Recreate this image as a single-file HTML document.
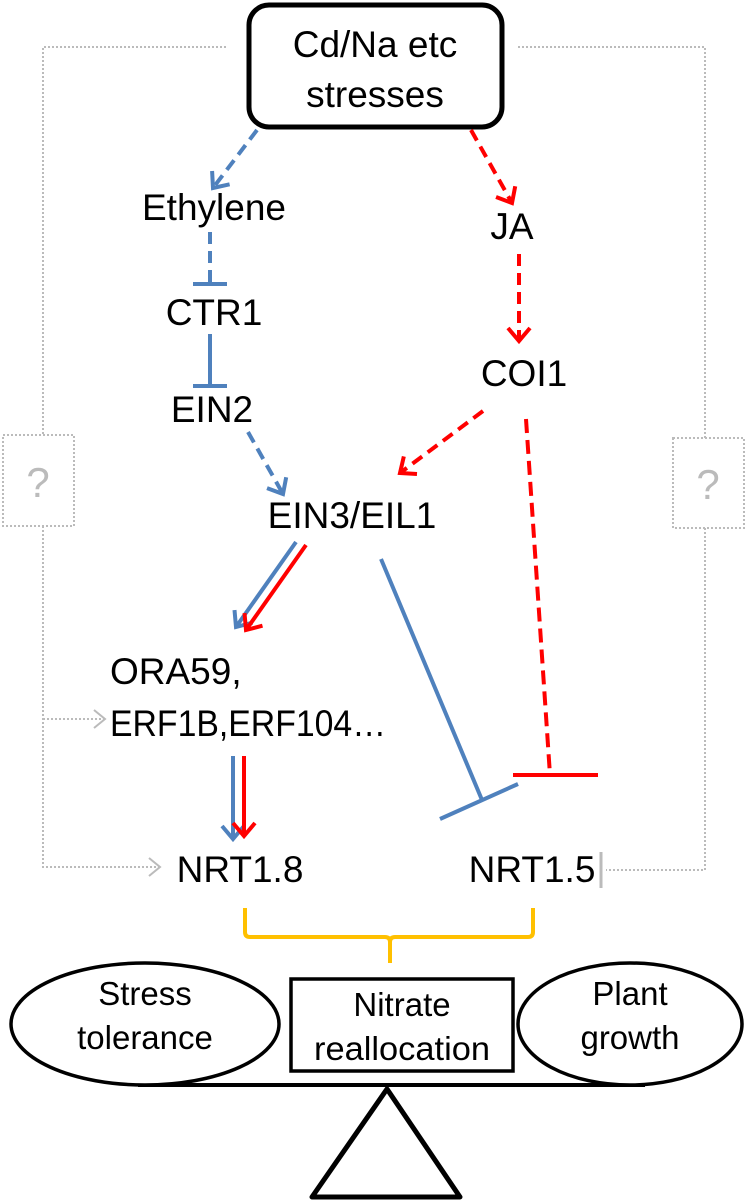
<!DOCTYPE html>
<html><head><meta charset="utf-8"><style>
html,body{margin:0;padding:0;background:#fff}
svg{display:block}
text{font-family:"Liberation Sans",sans-serif;fill:#000}
</style></head><body>
<svg width="747" height="1202" viewBox="0 0 747 1202" xmlns="http://www.w3.org/2000/svg">
<defs>
<marker id="ab" viewBox="-20 -20 40 40" refX="0" refY="0" markerWidth="40" markerHeight="40" orient="auto" markerUnits="userSpaceOnUse"><path d="M-13,-11 L0,0 L-13,11" fill="none" stroke="#4f81bd" stroke-width="4"/></marker>
<marker id="ar" viewBox="-20 -20 40 40" refX="0" refY="0" markerWidth="40" markerHeight="40" orient="auto" markerUnits="userSpaceOnUse"><path d="M-13,-11 L0,0 L-13,11" fill="none" stroke="#ff0000" stroke-width="4"/></marker>
<marker id="ag" viewBox="-20 -20 40 40" refX="0" refY="0" markerWidth="40" markerHeight="40" orient="auto" markerUnits="userSpaceOnUse"><path d="M-11,-9 L0,0 L-11,9" fill="none" stroke="#bbb" stroke-width="2"/></marker>
</defs>
<g fill="none" stroke="#bbb" stroke-width="2" stroke-dasharray="2,2">
<path d="M226,47 H43 V435"/>
<rect x="3" y="435" width="71" height="91"/>
<path d="M43,526 V867 H160" marker-end="url(#ag)"/>
<path d="M43,719 H105" marker-end="url(#ag)"/>
<path d="M518,47 H705 V438"/>
<rect x="673" y="438" width="71" height="90"/>
<path d="M705,528 V870 H606"/>
</g>
<line x1="601" y1="852" x2="601" y2="888" stroke="#bbb" stroke-width="3"/>
<text x="38" y="497" font-size="42" text-anchor="middle" style="fill:#bbb">?</text>
<text x="708" y="499" font-size="42" text-anchor="middle" style="fill:#bbb">?</text>
<rect x="249" y="5" width="253" height="122" rx="20" fill="#fff" stroke="#000" stroke-width="5"/>
<text x="375" y="57" font-size="37" text-anchor="middle">Cd/Na etc</text>
<text x="375" y="107" font-size="37" text-anchor="middle">stresses</text>
<g fill="none" stroke="#4f81bd" stroke-width="4">
<line x1="257" y1="130" x2="213" y2="188" stroke-dasharray="12,7" marker-end="url(#ab)"/>
<line x1="210" y1="232" x2="210" y2="284" stroke-dasharray="12,7"/>
<line x1="193" y1="284" x2="227" y2="284"/>
<line x1="210" y1="334" x2="210" y2="386"/>
<line x1="193" y1="386" x2="227" y2="386"/>
<line x1="248" y1="432" x2="283" y2="494" stroke-dasharray="12,7" marker-end="url(#ab)"/>
<line x1="296" y1="542" x2="236" y2="627" marker-end="url(#ab)"/>
<line x1="381" y1="559" x2="482" y2="800"/>
<line x1="440" y1="819" x2="518" y2="784"/>
<line x1="233" y1="756" x2="233" y2="839" marker-end="url(#ab)"/>
</g>
<g fill="none" stroke="#ff0000" stroke-width="4">
<line x1="471" y1="130" x2="512" y2="203" stroke-dasharray="12,7" marker-end="url(#ar)"/>
<line x1="519" y1="254" x2="519" y2="341" stroke-dasharray="12,7" marker-end="url(#ar)"/>
<line x1="483" y1="411" x2="400" y2="473" stroke-dasharray="12,7" marker-end="url(#ar)"/>
<line x1="526" y1="419" x2="550" y2="775" stroke-dasharray="14,7"/>
<line x1="513" y1="775" x2="598" y2="775"/>
<line x1="306" y1="545" x2="246" y2="630" marker-end="url(#ar)"/>
<line x1="244" y1="756" x2="244" y2="836" marker-end="url(#ar)"/>
</g>
<g font-size="37" text-anchor="middle">
<text x="214" y="220">Ethylene</text>
<text x="512" y="239">JA</text>
<text x="214" y="325">CTR1</text>
<text x="524" y="386">COI1</text>
<text x="212" y="422">EIN2</text>
<text x="352" y="528">EIN3/EIL1</text>
<text x="240" y="882">NRT1.8</text>
<text x="532" y="882">NRT1.5</text>
</g>
<text x="110" y="684" font-size="37">ORA59,</text>
<text x="110" y="736" font-size="37" textLength="276" lengthAdjust="spacingAndGlyphs">ERF1B,ERF104…</text>
<path d="M245,908 V932 Q245,937 250,937 H385 Q390,937 390,942 V963 M390,942 Q390,937 395,937 H528 Q533,937 533,932 V908" fill="none" stroke="#ffc000" stroke-width="4"/>
<line x1="138" y1="1085" x2="645" y2="1085" stroke="#000" stroke-width="4"/>
<ellipse cx="145" cy="1024" rx="134" ry="61" fill="#fff" stroke="#000" stroke-width="3.5"/>
<ellipse cx="630" cy="1024" rx="112" ry="61" fill="#fff" stroke="#000" stroke-width="3.5"/>
<rect x="291" y="979" width="222" height="92" fill="#fff" stroke="#000" stroke-width="3.5"/>
<polygon points="387,1089 312,1197 460,1197" fill="#fff" stroke="#000" stroke-width="5" stroke-linejoin="round"/>
<g font-size="33" text-anchor="middle">
<text x="145" y="1005">Stress</text>
<text x="145" y="1049">tolerance</text>
<text x="402" y="1016">Nitrate</text>
<text x="402" y="1060" textLength="176" lengthAdjust="spacingAndGlyphs">reallocation</text>
<text x="630" y="1005">Plant</text>
<text x="630" y="1049">growth</text>
</g>
</svg>
</body></html>
